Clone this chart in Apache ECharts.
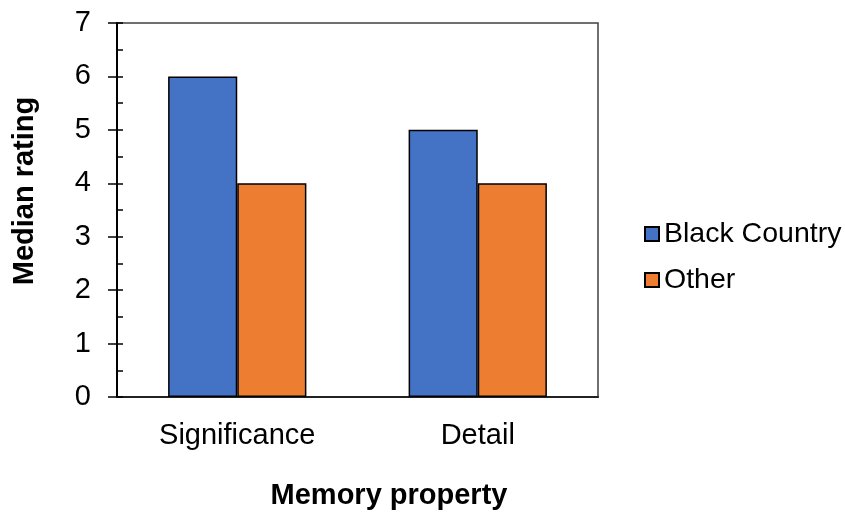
<!DOCTYPE html>
<html><head><meta charset="utf-8">
<script src="https://cdn.jsdelivr.net/npm/echarts@6/dist/echarts.min.js"></script>
<style>html,body{margin:0;padding:0;background:#fff}#c{width:845px;height:515px}</style>
</head><body><div id="c"></div>
<script>
const categories = ['Significance', 'Detail'];
const blackCountry = [6, 5];
const other = [4, 4];
const seriesNames = ['Black Country', 'Other'];
const yTicks = [0, 1, 2, 3, 4, 5, 6, 7];

const FONT = '"Liberation Sans", Arial, sans-serif';
const FS = 29;
const chart = echarts.init(document.getElementById('c'));
const gridPos = { left: 117, right: 247, top: 23, bottom: 118 };
chart.setOption({
  animation: false,
  textStyle: { fontFamily: FONT },
  grid: [
    Object.assign({ show: true, borderColor: '#404040', borderWidth: 1.5, backgroundColor: 'transparent' }, gridPos),
    Object.assign({ show: false }, gridPos)
  ],
  legend: {
    orient: 'vertical', left: 639, top: 214,
    itemWidth: 14, itemHeight: 14, itemGap: 16,
    data: seriesNames,
    icon: 'rect',
    textStyle: { fontFamily: FONT, fontSize: 28.5, color: '#000', lineHeight: 30, padding: [0, 0, 0, 0] }
  },
  xAxis: [{
    type: 'category', data: categories, gridIndex: 0,
    axisLine: { lineStyle: { color: '#222', width: 2 } },
    axisTick: { show: false },
    axisLabel: { fontFamily: FONT, fontSize: FS, color: '#000', margin: 24 }
  }, {
    type: 'category', data: categories, gridIndex: 1, show: false
  }],
  yAxis: [{
    type: 'value', gridIndex: 0, min: 0, max: yTicks[yTicks.length - 1], interval: 1,
    axisLine: { show: true, lineStyle: { color: '#000', width: 2 } },
    axisTick: { show: true, length: 9, lineStyle: { color: '#000', width: 1.5 } },
    splitLine: { show: false },
    axisLabel: { fontFamily: FONT, fontSize: FS, color: '#000', margin: 17 + 9 }
  }, {
    type: 'value', gridIndex: 1, min: 0, max: yTicks[yTicks.length - 1], interval: 1,
    axisLine: { show: false },
    axisTick: { show: true, inside: true, length: 6, lineStyle: { color: '#000', width: 1.5 } },
    minorTick: { show: true, splitNumber: 2, length: 6, lineStyle: { color: '#000', width: 1.5 } },
    splitLine: { show: false },
    axisLabel: { show: false }
  }],
  series: [{
    name: seriesNames[0], type: 'bar', data: blackCountry,
    barGap: '0%', barCategoryGap: '42.5%',
    itemStyle: { color: '#4472C4', borderColor: '#000', borderWidth: 1.5 }
  }, {
    name: seriesNames[1], type: 'bar', data: other,
    barGap: '0%', barCategoryGap: '42.5%',
    itemStyle: { color: '#ED7D31', borderColor: '#000', borderWidth: 1.5 }
  }],
  graphic: [{
    type: 'text', x: 25, y: 191, rotation: Math.PI / 2,
    style: { text: 'Median rating', fontFamily: FONT, fontSize: FS, fontWeight: 'bold', fill: '#000', align: 'center', verticalAlign: 'middle' }
  }, {
    type: 'text', x: 389, y: 496,
    style: { text: 'Memory property', fontFamily: FONT, fontSize: FS, fontWeight: 'bold', fill: '#000', align: 'center', verticalAlign: 'middle' }
  }]
});
</script></body></html>
